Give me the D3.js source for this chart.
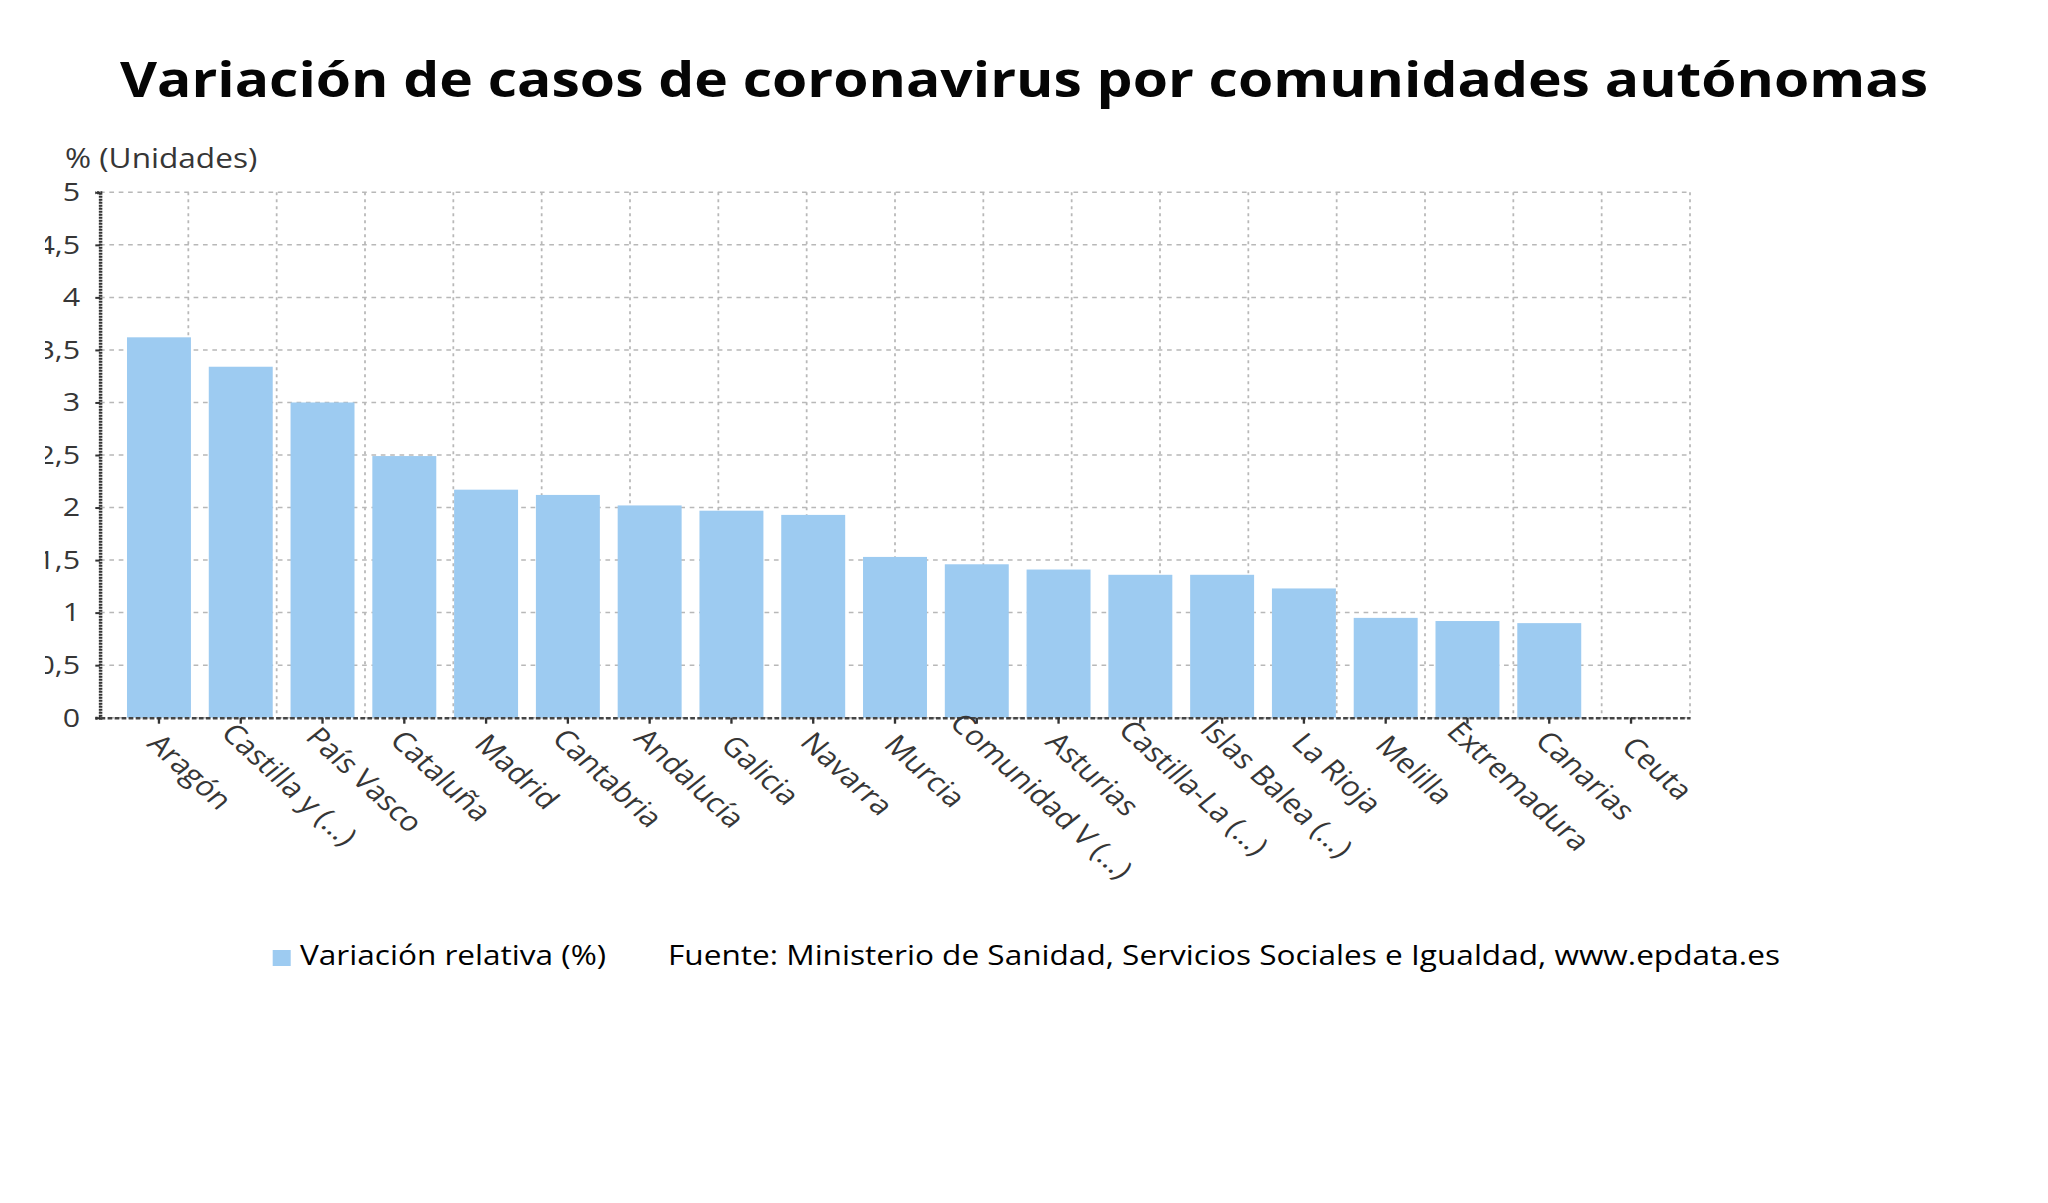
<!DOCTYPE html>
<html><head><meta charset="utf-8">
<script src="https://cdn.jsdelivr.net/npm/d3@7"></script>
<style>html,body{margin:0;padding:0;background:#fff;overflow:hidden} svg{display:block}</style>
</head><body>
<svg id="chart" width="2048" height="1203"></svg>
<script>
const categories = ["Aragón","Castilla y (...)","País Vasco","Cataluña","Madrid","Cantabria","Andalucía","Galicia","Navarra","Murcia","Comunidad V (...)","Asturias","Castilla-La (...)","Islas Balea (...)","La Rioja","Melilla","Extremadura","Canarias","Ceuta"];
const values = [3.62,3.34,3.00,2.49,2.17,2.12,2.02,1.97,1.93,1.53,1.46,1.41,1.36,1.36,1.23,0.95,0.92,0.90,0];
const yTicks = [0,0.5,1,1.5,2,2.5,3,3.5,4,4.5,5];
const seriesName = "Variación relativa (%)";
const titleText = "Variación de casos de coronavirus por comunidades autónomas";
const yTitle = "% (Unidades)";
const sourceText = "Fuente: Ministerio de Sanidad, Servicios Sociales e Igualdad, www.epdata.es";

const W = 2048, H = 1203, SX = 1.17, VW = W / SX;
const BAR = "#9dcbf1", FONT = "'Open Sans', sans-serif", AXC = "#363636";
const svg = d3.select("#chart").attr("viewBox", `0 0 ${VW} ${H}`).attr("preserveAspectRatio", "none");
const m = {left: 100 / SX, right: 1690 / SX, top: 192.3, bottom: 717.7};

const x = d3.scaleBand().domain(categories).range([m.left, m.right]).paddingInner(0.218).paddingOuter(0.33);
const y = d3.scaleLinear().domain([0, 5]).range([m.bottom, m.top]);
const gx = d3.scaleLinear().domain([0, 18]).range([m.left, m.right]);

// title
svg.append("text").attr("x", VW / 2).attr("y", 96.7).attr("text-anchor", "middle")
  .attr("font-family", FONT).attr("font-weight", 700).attr("font-size", 48.7).attr("fill", "#050505")
  .text(titleText);

// y title
svg.append("text").attr("x", 65 / SX).attr("y", 168).attr("font-family", FONT)
  .attr("font-size", 27).attr("fill", AXC).text(yTitle);

// grid
const grid = svg.append("g");
grid.selectAll("line.h").data(yTicks).join("line").attr("class", "h")
  .attr("x1", m.left).attr("x2", m.right).attr("y1", d => y(d)).attr("y2", d => y(d))
  .attr("stroke", "#b8b8b8").attr("stroke-width", 1.5).attr("stroke-dasharray", "4,4");
grid.selectAll("line.v").data(d3.range(19)).join("line").attr("class", "v")
  .attr("x1", d => gx(d)).attr("x2", d => gx(d)).attr("y1", m.top).attr("y2", m.bottom)
  .attr("stroke", "#b8b8b8").attr("stroke-width", 1.5).attr("stroke-dasharray", "3,4");

// bars
svg.append("g").selectAll("rect").data(categories).join("rect")
  .attr("x", d => x(d)).attr("width", x.bandwidth())
  .attr("y", (d, i) => y(values[i])).attr("height", (d, i) => y(0) - y(values[i]))
  .attr("fill", BAR);

// y axis (labels clipped at the left like the reference)
svg.append("defs").append("clipPath").attr("id", "yclip").append("rect")
  .attr("x", 45 / SX).attr("y", 0).attr("width", VW).attr("height", H);
const yWrap = svg.append("g").attr("clip-path", "url(#yclip)");
const ya = yWrap.append("g").attr("transform", `translate(${m.left},0)`)
  .call(d3.axisLeft(y).tickValues(yTicks).tickFormat(d => String(d).replace(".", ",")).tickSize(4).tickPadding(13));
ya.select(".domain").attr("stroke", "#333").attr("stroke-width", 3).attr("stroke-dasharray", "2,1");
ya.selectAll(".tick line").attr("stroke", "#333").attr("stroke-width", 2);
ya.selectAll(".tick text").attr("font-family", FONT).attr("font-size", 26).attr("fill", AXC);

// x axis
const xa = svg.append("g").attr("transform", `translate(0,${m.bottom})`)
  .call(d3.axisBottom(x).tickSize(6).tickSizeOuter(0));
xa.select(".domain").attr("stroke", "#444").attr("stroke-width", 2.5).attr("stroke-dasharray", "4,2");
xa.selectAll(".tick line").attr("stroke", "#333").attr("stroke-width", 2);
xa.selectAll(".tick text").attr("text-anchor", "start").attr("font-family", FONT)
  .attr("font-size", 27).attr("fill", AXC).attr("dy", null).attr("y", 0)
  .each(function () {
    const w = this.getComputedTextLength();
    d3.select(this).attr("transform", `translate(${-1.5 - 0.107 * w},${42.7 - 0.169 * w}) rotate(47)`);
  });

// legend
svg.append("rect").attr("x", 272.7 / SX).attr("y", 950).attr("width", 18 / SX).attr("height", 16).attr("fill", BAR);
svg.append("text").attr("x", 300 / SX).attr("y", 965).attr("font-family", FONT).attr("font-size", 27)
  .attr("fill", "#000").text(seriesName);
svg.append("text").attr("x", 668 / SX).attr("y", 965).attr("font-family", FONT).attr("font-size", 27)
  .attr("fill", "#000").text(sourceText);
</script>
</body></html>
